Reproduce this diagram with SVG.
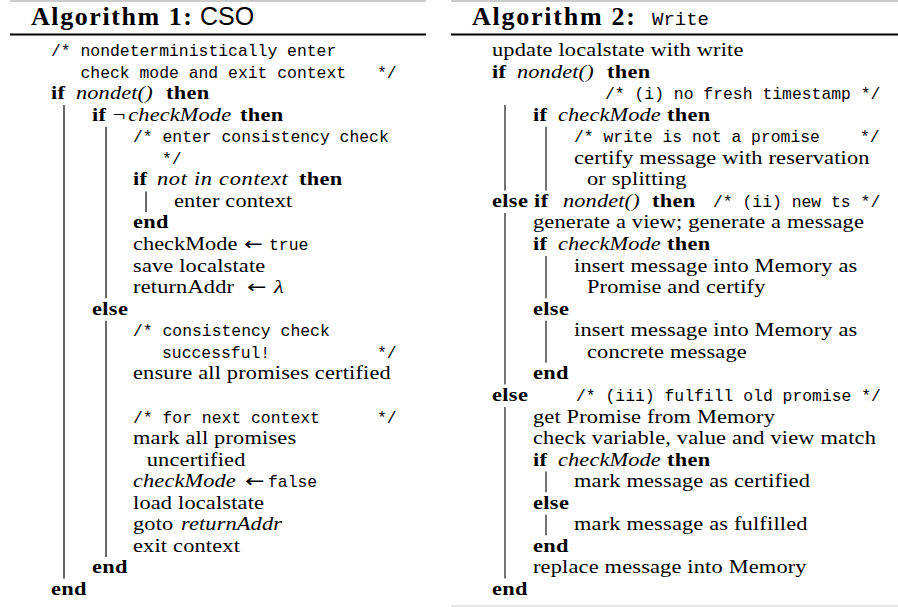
<svg xmlns="http://www.w3.org/2000/svg" width="898" height="607" viewBox="0 0 898 607">
<style>
text{font-family:"Liberation Serif",serif;font-size:19.3px;letter-spacing:0.15px;fill:#000}
.b{font-weight:bold;letter-spacing:0.3px}
.i{font-style:italic;letter-spacing:0.1px}
.t{font-family:"Liberation Mono",monospace;font-size:16.4px;letter-spacing:0}
.ar{font-family:"DejaVu Sans",sans-serif;font-size:18px;letter-spacing:0}
.ttl{font-size:26px;font-weight:bold;letter-spacing:0}
.sans{font-family:"Liberation Sans",sans-serif;font-weight:normal;font-size:25px}
.gray{stroke:#bbb;stroke-width:1.5}
.rule{stroke:#000;stroke-width:2}
.bar{stroke:#000;stroke-width:1.2}
.bar2{stroke:#444;stroke-width:1.5}
</style>
<rect width="898" height="607" fill="#fff"/>
<g id="algorithm1">
<line class="gray" x1="10" y1="1" x2="426" y2="1"/>
<text class="ttl" x="31" y="25"><tspan textLength="161">Algorithm 1:</tspan><tspan class="sans" x="200">CSO</tspan></text>
<line class="rule" x1="10" y1="34.5" x2="426" y2="34.5"/>
<g id="bars1">
<line class="bar" x1="64" y1="105" x2="64" y2="578.4"/>
<line class="bar" x1="106" y1="126.7" x2="106" y2="298.2"/>
<line class="bar" x1="106" y1="320.7" x2="106" y2="556.9"/>
<line class="bar" x1="146" y1="191.4" x2="146" y2="211.9"/>
</g>
<g id="comments1">
<text class="t" x="51" y="56">/* nondeterministically enter</text>
<text class="t" x="80.5" y="77.56">check mode and exit context</text>
<text class="t" x="377" y="77.56">*/</text>
<text class="t" x="133" y="142.24">/* enter consistency check</text>
<text class="t" x="162" y="163.8">*/</text>
<text class="t" x="269" y="250.04">true</text>
<text class="t" x="133" y="336.28">/* consistency check</text>
<text class="t" x="162" y="357.84">successful!</text>
<text class="t" x="377" y="357.84">*/</text>
<text class="t" x="133" y="422.52">/* for next context</text>
<text class="t" x="377" y="422.52">*/</text>
<text class="t" x="268" y="487.2">false</text>
</g>
<g id="arrows1">
<text class="ar" transform="translate(244,250.04) scale(1.25,1)">←</text>
<text class="ar" transform="translate(247,293.16) scale(1.3,1)">←</text>
<text class="ar" transform="translate(245,487.2) scale(1.3,1)">←</text>
</g>
<g id="code1" transform="scale(1.16,1)">
<text y="99.12"><tspan class="b" x="43.97">if</tspan><tspan class="i" x="65.52">nondet()</tspan><tspan class="b" x="143.1">then</tspan></text>
<text y="120.68"><tspan class="b" x="79.31">if</tspan><tspan x="97.2">¬</tspan></text>
<text y="120.68"><tspan class="i" x="110.6">checkMode</tspan><tspan class="b" x="206.9">then</tspan></text>
<text y="185.36"><tspan class="b" x="114.66">if</tspan><tspan class="i" x="135.34" style="letter-spacing:0.6px">not in context</tspan><tspan class="b" x="257.76">then</tspan></text>
<text x="150" y="206.92">enter context</text>
<text class="b" x="114.66" y="228.48">end</text>
<text x="114.66" y="250.04" style="letter-spacing:0">checkMode</text>
<text x="114.66" y="271.6">save localstate</text>
<text y="293.16"><tspan x="114.66">returnAddr</tspan><tspan class="i" x="236.21">λ</tspan></text>
<text class="b" x="79.31" y="314.72">else</text>
<text x="114.66" y="379.4">ensure all promises certified</text>
<text x="114.66" y="444.08">mark all promises</text>
<text x="126.47" y="465.64">uncertified</text>
<text class="i" x="114.66" y="487.2">checkMode</text>
<text x="114.66" y="508.76">load localstate</text>
<text y="530.32"><tspan x="114.66">goto</tspan><tspan class="i" x="156.03">returnAddr</tspan></text>
<text x="114.66" y="551.88">exit context</text>
<text class="b" x="79.31" y="573.44">end</text>
<text class="b" x="43.97" y="595">end</text>
</g>
</g>
<g id="algorithm2">
<line class="gray" x1="451" y1="1" x2="898" y2="1"/>
<text class="ttl" x="472" y="25"><tspan textLength="163">Algorithm 2:</tspan><tspan class="t" x="652" style="font-weight:normal;font-size:19px">Write</tspan></text>
<line class="rule" x1="451" y1="34.5" x2="898" y2="34.5"/>
<g id="bars2">
<line class="bar2" x1="505" y1="105" x2="505" y2="190.4"/>
<line class="bar2" x1="546" y1="126.7" x2="546" y2="190.4"/>
<line class="bar2" x1="505" y1="212.9" x2="505" y2="384.4"/>
<line class="bar2" x1="546" y1="256" x2="546" y2="298.2"/>
<line class="bar2" x1="546" y1="320.7" x2="546" y2="362.8"/>
<line class="bar2" x1="505" y1="407" x2="505" y2="578.4"/>
<line class="bar2" x1="546" y1="471.6" x2="546" y2="492.2"/>
<line class="bar2" x1="546" y1="514.7" x2="546" y2="535.3"/>
</g>
<g id="comments2">
<text class="t" x="605" y="99.12">/* (i) no fresh timestamp */</text>
<text class="t" x="574" y="142.24">/* write is not a promise</text>
<text class="t" x="860" y="142.24">*/</text>
<text class="t" x="713" y="206.92">/* (ii) new ts */</text>
<text class="t" x="576" y="400.96">/* (iii) fulfill old promise */</text>
</g>
<g id="code2" transform="scale(1.16,1)">
<text x="424.14" y="56">update localstate with write</text>
<text y="77.56"><tspan class="b" x="424.14">if</tspan><tspan class="i" x="445.69">nondet()</tspan><tspan class="b" x="523.28">then</tspan></text>
<text y="120.68"><tspan class="b" x="459.48">if</tspan><tspan class="i" x="481.03">checkMode</tspan><tspan class="b" x="575">then</tspan></text>
<text x="494.83" y="163.8">certify message with reservation</text>
<text x="506.03" y="185.36">or splitting</text>
<text y="206.92"><tspan class="b" x="424.14">else if</tspan><tspan class="i" x="485.34">nondet()</tspan><tspan class="b" x="562.07">then</tspan></text>
<text x="459.48" y="228.48">generate a view; generate a message</text>
<text y="250.04"><tspan class="b" x="459.48">if</tspan><tspan class="i" x="481.03">checkMode</tspan><tspan class="b" x="575">then</tspan></text>
<text x="494.83" y="271.6">insert message into Memory as</text>
<text x="506.03" y="293.16">Promise and certify</text>
<text class="b" x="459.48" y="314.72">else</text>
<text x="494.83" y="336.28">insert message into Memory as</text>
<text x="506.03" y="357.84">concrete message</text>
<text class="b" x="459.48" y="379.4">end</text>
<text class="b" x="424.14" y="400.96">else</text>
<text x="459.48" y="422.52">get Promise from Memory</text>
<text x="459.48" y="444.08">check variable, value and view match</text>
<text y="465.64"><tspan class="b" x="459.48">if</tspan><tspan class="i" x="481.03">checkMode</tspan><tspan class="b" x="575">then</tspan></text>
<text x="494.83" y="487.2">mark message as certified</text>
<text class="b" x="459.48" y="508.76">else</text>
<text x="494.83" y="530.32">mark message as fulfilled</text>
<text class="b" x="459.48" y="551.88">end</text>
<text x="459.48" y="573.44">replace message into Memory</text>
<text class="b" x="424.14" y="595">end</text>
</g>
<line x1="451" y1="606" x2="898" y2="606" stroke="#ddd" stroke-width="1.5"/>
</g>
</svg>
